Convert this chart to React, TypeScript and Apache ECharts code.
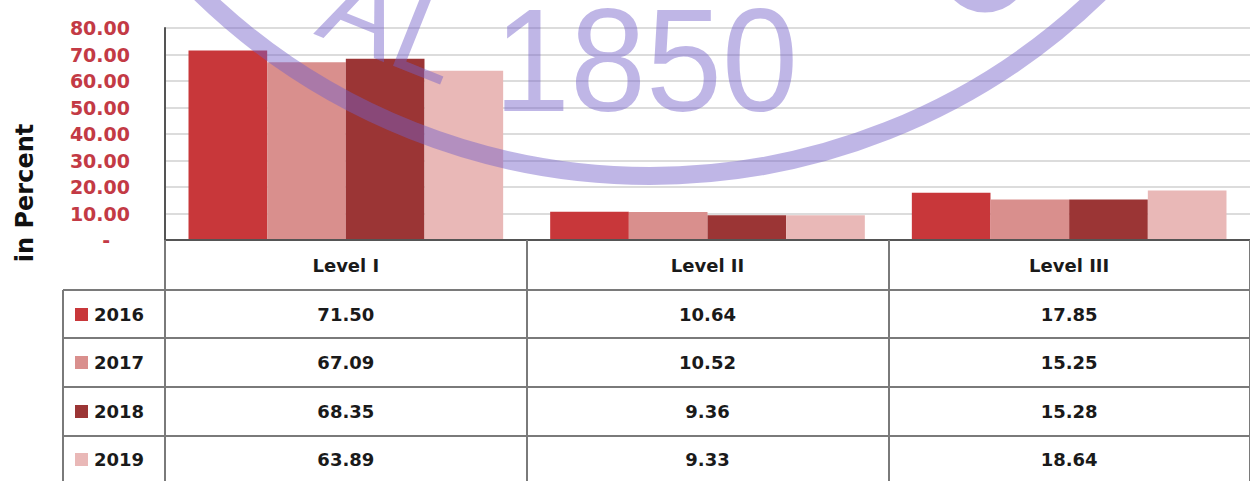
import React, { useEffect, useRef } from "react";
import * as echarts from "echarts";

const categories = ["Level I", "Level II", "Level III"];
const years = ["2016", "2017", "2018", "2019"];
const values2016 = [71.5, 10.64, 17.85];
const values2017 = [67.09, 10.52, 15.25];
const values2018 = [68.35, 9.36, 15.28];
const values2019 = [63.89, 9.33, 18.64];
const yearColors = ["#c8373a", "#d98f8d", "#9b3535", "#e9b8b7"];
const yMax = 80;
const yStep = 10;
const axisTitle = "in Percent";
const watermarkText = "1850";
const watermarkText2 = "AL";

const W = 1250;
const H = 481;
const GRID_LEFT = 165;
const GRID_TOP = 28;
const AXIS_Y = 240;
const TABLE_LEFT = 63;
const ROW_LINES = [290, 338, 387, 436];
const ROW_CENTERS = [314, 362, 411, 459];
const FONT = "DejaVu Sans";
const LINE_COLOR = "#7a7a7a";
const WM_COLOR = "rgba(115,95,200,0.46)";

export default function App() {
  const ref = useRef<HTMLDivElement>(null);
  useEffect(() => {
    if (!ref.current) return;
    const chart = echarts.init(ref.current, null, { renderer: "svg" });
    const seriesValues = [values2016, values2017, values2018, values2019];
    const catW = (W - GRID_LEFT) / categories.length;

    const graphics: any[] = [];
    ROW_LINES.forEach((y) => {
      graphics.push({
        type: "line",
        shape: { x1: TABLE_LEFT, y1: y, x2: W, y2: y },
        style: { stroke: LINE_COLOR, lineWidth: 2 },
        z: 10,
      });
    });
    graphics.push({
      type: "line",
      shape: { x1: TABLE_LEFT, y1: ROW_LINES[0], x2: TABLE_LEFT, y2: H },
      style: { stroke: LINE_COLOR, lineWidth: 2 },
      z: 10,
    });
    years.forEach((yr, i) => {
      const cy = ROW_CENTERS[i];
      graphics.push({
        type: "rect",
        shape: { x: 75, y: cy - 6, width: 13, height: 13 },
        style: { fill: yearColors[i] },
        z: 10,
      });
      graphics.push({
        type: "text",
        x: 94,
        y: cy,
        style: {
          text: yr,
          fill: "#1a1a1a",
          font: `bold 18px "${FONT}"`,
          textAlign: "left",
          textVerticalAlign: "middle",
        },
        z: 10,
      });
      seriesValues[i].forEach((v, j) => {
        graphics.push({
          type: "text",
          x: GRID_LEFT + (j + 0.5) * catW,
          y: cy,
          style: {
            text: v.toFixed(2),
            fill: "#1a1a1a",
            font: `bold 18px "${FONT}"`,
            textAlign: "center",
            textVerticalAlign: "middle",
          },
          z: 10,
        });
      });
    });
    graphics.push({
      type: "text",
      x: 25,
      y: 193,
      rotation: Math.PI / 2,
      style: {
        text: axisTitle,
        fill: "#111",
        font: `bold 24px "${FONT}"`,
        textAlign: "center",
        textVerticalAlign: "middle",
      },
      z: 10,
    });
    graphics.push({
      type: "arc",
      shape: { cx: 650, cy: -469, r: 645, startAngle: 0, endAngle: Math.PI },
      style: { stroke: WM_COLOR, lineWidth: 18, fill: "none" },
      z: 50,
      silent: true,
    });
    graphics.push({
      type: "arc",
      shape: { cx: 985, cy: -32, r: 38, startAngle: 0, endAngle: Math.PI },
      style: { stroke: WM_COLOR, lineWidth: 13, fill: "none" },
      z: 50,
      silent: true,
    });
    graphics.push({
      type: "text",
      x: 494,
      y: 60,
      scaleX: 0.93,
      style: {
        text: watermarkText,
        fill: WM_COLOR,
        font: `147px "Liberation Sans"`,
        textAlign: "left",
        textVerticalAlign: "middle",
      },
      z: 50,
      silent: true,
    });
    graphics.push({
      type: "text",
      x: 446,
      y: 80,
      rotation: -0.38,
      style: {
        text: watermarkText2,
        fill: WM_COLOR,
        font: `115px "Liberation Sans"`,
        textAlign: "right",
        textVerticalAlign: "bottom",
        y: 24,
      },
      z: 50,
      silent: true,
    });

    chart.setOption({
      animation: false,
      backgroundColor: "#ffffff",
      grid: { left: GRID_LEFT, right: 0, top: GRID_TOP, bottom: H - AXIS_Y, containLabel: false },
      xAxis: {
        type: "category",
        data: categories,
        boundaryGap: true,
        axisLine: { show: true, lineStyle: { color: "#555", width: 2 } },
        axisTick: {
          show: true,
          alignWithLabel: false,
          length: H - AXIS_Y,
          lineStyle: { color: LINE_COLOR, width: 2 },
        },
        axisLabel: {
          margin: 16,
          color: "#1a1a1a",
          fontFamily: FONT,
          fontWeight: "bold",
          fontSize: 18,
        },
        z: 10,
      },
      yAxis: {
        type: "value",
        min: 0,
        max: yMax,
        interval: yStep,
        axisLine: { show: true, lineStyle: { color: "#555", width: 2 } },
        axisTick: { show: false },
        splitLine: { lineStyle: { color: "#dcdcdc", width: 2 } },
        axisLabel: {
          margin: 35,
          color: "#c33a45",
          fontFamily: FONT,
          fontWeight: "bold",
          fontSize: 19,
          formatter: (v: number) => (v === 0 ? "-   " : v.toFixed(2)),
        },
      },
      series: years.map((yr, i) => ({
        name: yr,
        type: "bar",
        data: seriesValues[i],
        barGap: "0%",
        barCategoryGap: "13%",
        itemStyle: { color: yearColors[i] },
      })),
      graphic: graphics,
    });
    return () => chart.dispose();
  }, []);
  return (
    <div
      ref={ref}
      style={{ position: "absolute", left: 0, top: 0, width: W, height: H, background: "#fff" }}
    />
  );
}
